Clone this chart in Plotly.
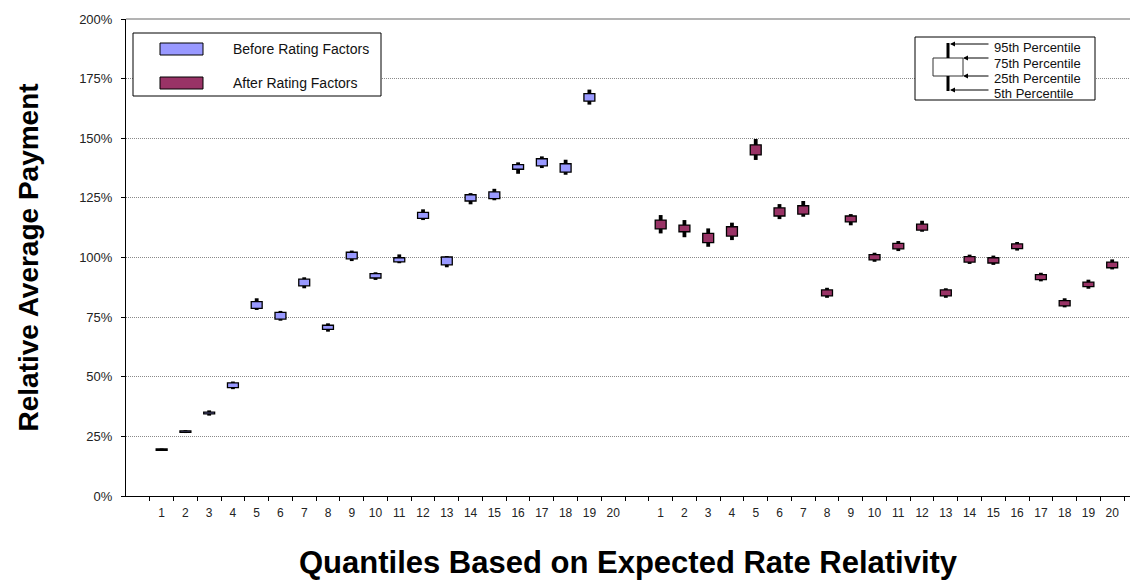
import plotly.graph_objects as go

# ---- data: percentiles of relative average payment per quantile ----
quantile_labels = [str(i) for i in range(1, 21)]

before_x = list(range(1, 21))
before_p5  = [0.189, 0.264, 0.337, 0.448, 0.780, 0.735, 0.871, 0.689, 0.985, 0.906,
              0.976, 1.157, 0.959, 1.223, 1.240, 1.351, 1.375, 1.347, 1.641, None]
before_p25 = [0.191, 0.267, 0.344, 0.454, 0.787, 0.742, 0.881, 0.699, 0.994, 0.914,
              0.982, 1.164, 0.969, 1.237, 1.247, 1.370, 1.384, 1.358, 1.656, None]
before_p75 = [0.197, 0.273, 0.352, 0.474, 0.815, 0.770, 0.909, 0.716, 1.022, 0.932,
              0.999, 1.189, 1.002, 1.263, 1.275, 1.389, 1.414, 1.393, 1.687, None]
before_p95 = [0.199, 0.276, 0.359, 0.480, 0.829, 0.776, 0.917, 0.724, 1.029, 0.938,
              1.013, 1.202, 1.006, 1.270, 1.288, 1.399, 1.424, 1.410, 1.704, None]

after_x = list(range(22, 42))
after_p5  = [1.101, 1.085, 1.045, 1.073, 1.409, 1.161, 1.171, 0.831, 1.135, 0.982,
             1.027, 1.108, 0.831, 0.973, 0.969, 1.029, 0.900, 0.791, 0.869, 0.950]
after_p25 = [1.120, 1.108, 1.062, 1.090, 1.430, 1.174, 1.182, 0.839, 1.149, 0.990,
             1.036, 1.115, 0.839, 0.981, 0.977, 1.037, 0.907, 0.797, 0.878, 0.957]
after_p75 = [1.157, 1.136, 1.101, 1.129, 1.472, 1.208, 1.217, 0.864, 1.174, 1.012,
             1.059, 1.140, 0.864, 1.004, 0.999, 1.057, 0.928, 0.819, 0.897, 0.981]
after_p95 = [1.178, 1.157, 1.122, 1.146, 1.497, 1.224, 1.237, 0.873, 1.182, 1.020,
             1.069, 1.154, 0.871, 1.012, 1.008, 1.065, 0.936, 0.829, 0.907, 0.992]

y_ticks = [0, 0.25, 0.5, 0.75, 1.0, 1.25, 1.5, 1.75, 2.0]

BLUE = "#9999FF"
MAROON = "#993366"
FONT = "Liberation Sans, Arial, sans-serif"

W, H = 1130, 582
ML, MT, MB = 126, 19, 86
PW, PH = W - ML, H - MT - MB


def px(x):
    return (x - ML) / PW


def py(y):
    return (MT + PH - y) / PH


def whisker_segments(xs, p5, p25, p75, p95):
    wx, wy = [], []
    for x, a, b, c, d in zip(xs, p5, p25, p75, p95):
        if a is None:
            continue
        wx += [x, x, None, x, x, None]
        wy += [a, b, None, c, d, None]
    return wx, wy


def box_parts(xs, p25, p75):
    bx, base, height = [], [], []
    for x, b, c in zip(xs, p25, p75):
        if b is None:
            continue
        bx.append(x)
        base.append(b)
        height.append(c - b)
    return bx, base, height


fig = go.Figure()

for xs, p5, p25, p75, p95, color, name in [
    (before_x, before_p5, before_p25, before_p75, before_p95, BLUE, "Before Rating Factors"),
    (after_x, after_p5, after_p25, after_p75, after_p95, MAROON, "After Rating Factors"),
]:
    wx, wy = whisker_segments(xs, p5, p25, p75, p95)
    fig.add_trace(go.Scatter(x=wx, y=wy, mode="lines",
                             line=dict(color="black", width=3.8),
                             hoverinfo="skip", showlegend=False))
    bx, base, height = box_parts(xs, p25, p75)
    fig.add_trace(go.Bar(x=bx, y=height, base=base, width=0.46,
                         marker=dict(color=color, line=dict(color="black", width=1.3)),
                         name=name, showlegend=False))

label_pos = before_x + after_x
label_text = quantile_labels + quantile_labels
boundaries = [k + 0.5 for k in range(0, 42)]
x_range = [-0.5, 41.75]

fig.update_layout(
    width=W, height=H,
    margin=dict(l=ML, r=0, t=MT, b=MB),
    paper_bgcolor="white", plot_bgcolor="white",
    barmode="overlay",
    font=dict(family=FONT, color="black"),
    xaxis=dict(range=x_range, tickmode="array", tickvals=label_pos, ticktext=label_text,
               ticks="", showgrid=False, zeroline=False,
               showline=True, linecolor="black", linewidth=1,
               tickfont=dict(size=12, color="#222"), ticklabelstandoff=6,
               minor=dict(tickmode="array", tickvals=boundaries, ticks="outside",
                          ticklen=4, tickcolor="black", tickwidth=1, showgrid=False)),
    xaxis2=dict(range=x_range, overlaying="x", anchor="y", side="bottom",
                tickmode="array", tickvals=boundaries, ticks="inside", ticklen=4,
                tickcolor="black", showticklabels=False, showgrid=False,
                zeroline=False, showline=False),
    yaxis=dict(range=[0, 2], tickmode="array", tickvals=y_ticks, tickformat=".0%",
               ticks="outside", ticklen=4, tickcolor="black",
               showgrid=True, gridcolor="#8a8a8a", griddash="1px,1px", gridwidth=1,
               zeroline=False, showline=True, linecolor="black", linewidth=1,
               tickfont=dict(size=13, color="#222"), ticklabelstandoff=6),
    yaxis2=dict(range=[0, 2], overlaying="y", anchor="x", side="left",
                tickmode="array", tickvals=y_ticks, ticks="inside", ticklen=4,
                tickcolor="black", showticklabels=False, showgrid=False,
                zeroline=False, showline=False),
)

shapes = []
annotations = []

# top border of plotting area
shapes.append(dict(type="line", xref="paper", yref="paper", x0=0, x1=1, y0=1, y1=1,
                   line=dict(color="#9a9a9a", width=1.5)))

# series key
shapes.append(dict(type="rect", xref="paper", yref="paper",
                   x0=px(133), x1=px(381), y0=py(96), y1=py(33),
                   line=dict(color="black", width=1), fillcolor="white"))
for (y0, y1, color, text) in [(43, 55, BLUE, "Before Rating Factors"),
                              (77, 89, MAROON, "After Rating Factors")]:
    shapes.append(dict(type="rect", xref="paper", yref="paper",
                       x0=px(160), x1=px(203), y0=py(y1), y1=py(y0),
                       line=dict(color="black", width=1), fillcolor=color))
    annotations.append(dict(xref="paper", yref="paper", x=px(231), y=py((y0 + y1) / 2),
                            text=text, showarrow=False, xanchor="left", yanchor="middle",
                            font=dict(size=14, color="#111")))

# percentile key
shapes.append(dict(type="rect", xref="paper", yref="paper",
                   x0=px(915), x1=px(1095), y0=py(100), y1=py(37),
                   line=dict(color="black", width=1), fillcolor="white"))
shapes.append(dict(type="rect", xref="paper", yref="paper",
                   x0=px(933), x1=px(963), y0=py(76), y1=py(58),
                   line=dict(color="#333", width=1), fillcolor="white"))
for (ya, yb) in [(43, 58), (76, 91)]:
    shapes.append(dict(type="line", xref="paper", yref="paper",
                       x0=px(948), x1=px(948), y0=py(yb), y1=py(ya),
                       line=dict(color="black", width=3)))
for (head_x, arrow_y, text_y, text) in [(950, 44, 48, "95th Percentile"),
                                        (963, 58, 63, "75th Percentile"),
                                        (963, 76, 78, "25th Percentile"),
                                        (950, 90, 93, "5th Percentile")]:
    annotations.append(dict(xref="paper", yref="paper", x=px(head_x), y=py(arrow_y),
                            ax=990 - head_x, ay=0, text="", showarrow=True,
                            arrowhead=2, arrowsize=1, arrowwidth=1, arrowcolor="black",
                            standoff=0))
    annotations.append(dict(xref="paper", yref="paper", x=px(992), y=py(text_y),
                            text=text, showarrow=False, xanchor="left", yanchor="middle",
                            font=dict(size=13, color="#111")))

# axis titles
annotations.append(dict(xref="paper", yref="paper", x=0.5, y=py(562),
                        text="<b>Quantiles Based on Expected Rate Relativity</b>",
                        showarrow=False, xanchor="center", yanchor="middle",
                        font=dict(size=31, color="black")))
annotations.append(dict(xref="paper", yref="paper", x=px(28), y=0.5,
                        text="<b>Relative Average Payment</b>", textangle=-90,
                        showarrow=False, xanchor="center", yanchor="middle",
                        font=dict(size=28, color="black")))

fig.update_layout(shapes=shapes, annotations=annotations)

fig.write_html("out.html")
